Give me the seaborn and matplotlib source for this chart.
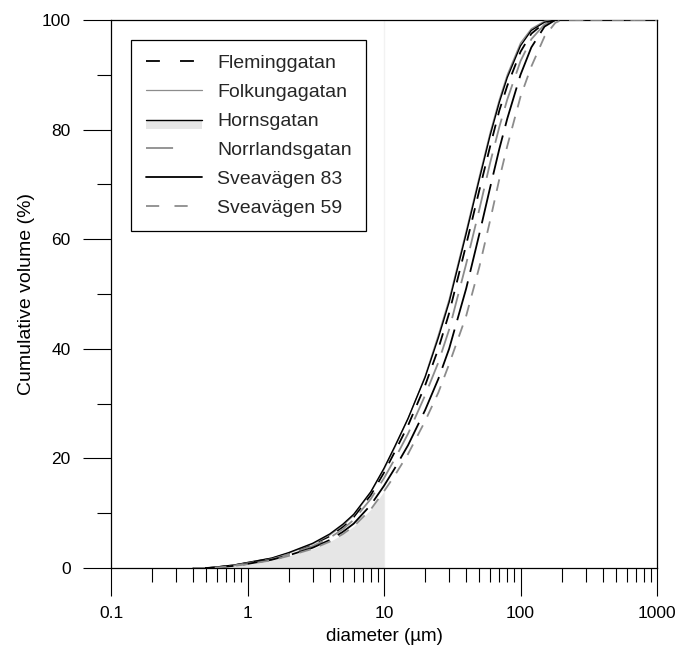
import numpy as np
import pandas as pd
import matplotlib
matplotlib.use("Agg")
import matplotlib.pyplot as plt
import seaborn as sns
from matplotlib.lines import Line2D
from matplotlib.patches import Rectangle
from matplotlib.ticker import LogLocator, MultipleLocator, FixedLocator, NullFormatter

# ---- data ----
diameter = [0.4, 0.5, 0.6, 0.8, 1, 1.5, 2, 3, 4, 5, 6, 8, 10, 12, 15, 20, 25, 30,
            40, 50, 60, 70, 80, 100, 120, 150, 180, 200, 300, 1000]

fleminggatan = [0, 0, 0.15, 0.5, 0.9, 1.7, 2.6, 4.3, 5.8, 7.5, 9.3, 13.3, 17.4, 21.2,
                26, 33.3, 40, 46.5, 59, 69, 77, 83.5, 88, 94.2, 97.5, 99.5, 100, 100, 100, 100]
folkungagatan = [0, 0, 0.2, 0.55, 1.0, 1.8, 2.7, 4.4, 6.0, 7.8, 9.6, 13.8, 18.0, 22,
                 27.2, 35, 42.5, 49, 61.5, 71.5, 79.5, 85.5, 90, 95.8, 98.4, 99.8, 100, 100, 100, 100]
hornsgatan = [0, 0, 0.2, 0.55, 1.0, 1.8, 2.8, 4.5, 6.2, 8.0, 9.8, 13.9, 18.2, 22.2,
              27.3, 34.8, 42, 48.5, 61, 71, 79, 85, 89.5, 95.3, 98.1, 99.6, 100, 100, 100, 100]
norrlandsgatan = [0, 0, 0.15, 0.45, 0.85, 1.6, 2.5, 4.0, 5.5, 7.1, 8.8, 12.6, 16.4, 19.9,
                  24.5, 31.5, 37.5, 43.5, 55.5, 65.5, 74, 80.5, 85.5, 92.5, 96.5, 99.2, 100, 100, 100, 100]
sveavagen83 = [0, 0, 0.12, 0.4, 0.75, 1.5, 2.3, 3.7, 5.1, 6.6, 8.1, 11.5, 15.0, 18.2,
               22.4, 28.8, 34.5, 40, 51, 61, 69.5, 76.5, 82, 90, 95, 98.8, 100, 100, 100, 100]
sveavagen59 = [0, 0, 0.1, 0.38, 0.7, 1.4, 2.2, 3.5, 4.8, 6.2, 7.6, 10.7, 14.0, 16.9,
               20.8, 26.8, 32, 37.2, 46, 55, 63.5, 71, 77, 86, 91.5, 97, 99.5, 100, 100, 100]

series_names = ["Fleminggatan", "Folkungagatan", "Hornsgatan",
                "Norrlandsgatan", "Sveavägen 83", "Sveavägen 59"]
series_values = [fleminggatan, folkungagatan, hornsgatan,
                 norrlandsgatan, sveavagen83, sveavagen59]
fill_limit = 10  # shaded region up to 10 µm

xticks = [0.1, 1, 10, 100, 1000]
xtick_labels = ["0.1", "1", "10", "100", "1000"]
yticks = [0, 20, 40, 60, 80, 100]

# ---- styles ----
styles = {
    "Fleminggatan":   dict(color="black",   lw=1.3, ls=(0, (8.5, 7.0)), leg=(0, (10, 14.5))),
    "Folkungagatan":  dict(color="#8c8c8c", lw=0.9, ls="-", leg="-"),
    "Hornsgatan":     dict(color="black",   lw=1.0, ls="-", leg="-"),
    "Norrlandsgatan": dict(color="#8c8c8c", lw=1.3, ls=(0, (18, 8)), leg=(0, (19.5, 30))),
    "Sveavägen 83":   dict(color="black",   lw=1.3, ls=(0, (29, 7)), leg="-"),
    "Sveavägen 59":   dict(color="#8c8c8c", lw=1.3, ls=(0, (8.5, 7.0)), leg=(0, (9.5, 11))),
}

sns.set_theme(style="white")
plt.rcParams["font.family"] = ["Liberation Sans", "DejaVu Sans"]
plt.rcParams["lines.scale_dashes"] = False

df = pd.DataFrame({"diameter": np.tile(diameter, len(series_names)),
                   "volume": np.concatenate(series_values),
                   "site": np.repeat(series_names, len(diameter))})

fig = plt.figure(figsize=(6.82, 6.53), dpi=100)
ax = fig.add_axes([111/682, 85/653, 546/682, 548/653])

# shaded area (Hornsgatan legend entry)
d_arr = np.array(diameter)
mask = d_arr <= fill_limit
ax.fill_between(d_arr[mask], 0, np.array(sveavagen59)[mask], color="#e6e6e6", lw=0, zorder=1)
ax.axvline(fill_limit, color="#f2f2f2", lw=1, zorder=0.5)

for name in series_names:
    st = styles[name]
    sub = df[df["site"] == name]
    sns.lineplot(data=sub, x="diameter", y="volume", ax=ax, color=st["color"],
                 linewidth=st["lw"], linestyle=st["ls"], estimator=None, sort=False,
                 legend=False, zorder=3)

ax.set_xscale("log")
ax.set_xlim(0.1, 1000)
ax.set_ylim(0, 100)
ax.xaxis.set_major_locator(FixedLocator(xticks))
ax.set_xticklabels(xtick_labels)
ax.xaxis.set_minor_locator(LogLocator(base=10, subs=np.arange(2, 10)))
ax.xaxis.set_minor_formatter(NullFormatter())
ax.yaxis.set_major_locator(FixedLocator(yticks))
ax.yaxis.set_minor_locator(MultipleLocator(10))

ax.tick_params(which="major", direction="out", length=20, width=0.8, color="black",
               labelsize=12.5, colors="black")
ax.tick_params(axis="y", which="major", pad=9)
ax.tick_params(axis="x", which="major", pad=7)
ax.tick_params(which="minor", direction="out", length=10, width=0.8, color="black")
ax.tick_params(which="both", bottom=True, left=True, top=False, right=False)
for sp in ax.spines.values():
    sp.set_color("black")
    sp.set_linewidth(0.9)
    sp.set_visible(True)

ax.set_xlabel("diameter (µm)", fontsize=13.5, color="black", labelpad=5.5)
ax.set_ylabel("Cumulative volume (%)", fontsize=14, color="black", labelpad=5)


class FillLineHandler:
    def legend_artist(self, legend, orig_handle, fontsize, handlebox):
        x0, y0 = handlebox.xdescent, handlebox.ydescent
        w, h = handlebox.width, handlebox.height
        rect = Rectangle((x0, y0 - 0.2 * h), w, 0.55 * h, facecolor="#e6e6e6",
                         edgecolor="none", transform=handlebox.get_transform())
        line = Line2D([x0, x0 + w], [y0 + 0.45 * h, y0 + 0.45 * h], color="black", lw=1.0,
                      transform=handlebox.get_transform())
        handlebox.add_artist(rect)
        handlebox.add_artist(line)
        return line


handles = []
for name in series_names:
    st = styles[name]
    if name == "Hornsgatan":
        handles.append(Rectangle((0, 0), 1, 1))
    else:
        handles.append(Line2D([], [], color=st["color"], lw=st["lw"], linestyle=st["leg"]))

leg = ax.legend(handles, series_names, loc="upper left",
                bbox_to_anchor=(20/546, 1 - 20/548), borderaxespad=0,
                fontsize=14, frameon=True, fancybox=False, framealpha=1,
                edgecolor="black", handlelength=2.9, handletextpad=0.78,
                labelspacing=0.58, borderpad=0.75,
                handler_map={handles[2]: FillLineHandler()})
leg.get_frame().set_linewidth(0.9)

fig.savefig("out.png", dpi=100)
